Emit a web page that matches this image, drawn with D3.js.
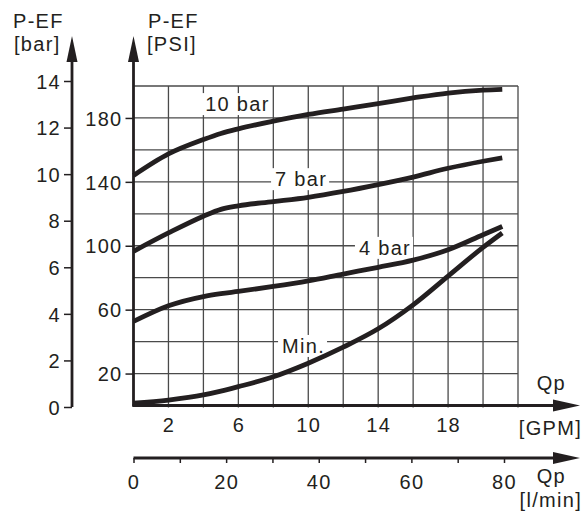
<!DOCTYPE html>
<html>
<head>
<meta charset="utf-8">
<script src="https://cdn.jsdelivr.net/npm/d3@7"></script>
<style>
	body { margin: 0; background: #fff; }
	text { font-family: "Liberation Sans", Arial, sans-serif; font-size: 20px; fill: #231f20; letter-spacing: 1.3px; }
	.grid line { stroke: #4a4a4a; stroke-width: 1.3; }
	.axis-line { stroke: #231f20; stroke-width: 2.8; fill: none; }
	.tick line { stroke: #231f20; stroke-width: 1.5; }
	.curve { fill: none; stroke: #231f20; stroke-width: 4.8; }
</style>
</head>
<body>
<div id="chart"></div>
<script>

///////////////////////////////////////////////////////////////////////////
/////////////////////////////// The data //////////////////////////////////
///////////////////////////////////////////////////////////////////////////

//Flow in GPM where the curves were read
var flowGpm = [0, 2, 4, 5, 6, 8, 10, 12, 14, 16, 18, 20, 21.1];

//Pressure in PSI per setting
var psi10bar = [144, 157.5, 166.5, 170.3, 173.2, 178, 182.2, 185.6, 189, 192.5, 195.6, 197.4, 197.9];
var psi7bar  = [96.5, 108, 118.5, 122.8, 125, 127.6, 130.3, 134, 138.3, 143, 148.5, 152.9, 155];
var psi4bar  = [52.6, 62.4, 68.2, 70, 71.4, 74.5, 78, 82.3, 86.5, 91, 97.5, 106.9, 112.1];
var psiMin   = [1.4, 3.4, 6.6, 9, 11.8, 18, 26.5, 36.5, 48, 63, 81, 99, 108];

var curveNames = ["10 bar", "7 bar", "4 bar", "Min."];

//Tick values
var barTicks = [0, 2, 4, 6, 8, 10, 12, 14];
var psiTicks = [20, 60, 100, 140, 180];
var psiGrid = [20, 40, 60, 80, 100, 120, 140, 160, 180, 200];
var gpmTicks = [2, 6, 10, 14, 18];
var gpmGrid = [2, 4, 6, 8, 10, 12, 14, 16, 18, 20, 22];
var lpmTicks = [0, 10, 20, 30, 40, 50, 60, 70, 80];
var lpmLabels = [0, 20, 40, 60, 80];

///////////////////////////////////////////////////////////////////////////
//////////////////////////// Set up the SVG ///////////////////////////////
///////////////////////////////////////////////////////////////////////////

var width = 587,
	height = 511;

var svg = d3.select("#chart")
	.append("svg")
	.attr("width", width)
	.attr("height", height);

//Scales
var x = d3.scaleLinear().domain([0, 22]).range([133.5, 518]);
var xLpm = d3.scaleLinear().domain([0, 80]).range([133.5, 504]);
var yPsi = d3.scaleLinear().domain([0, 200]).range([405.5, 86]);
var yBar = d3.scaleLinear().domain([0, 14]).range([407, 81]);

var barAxisX = 72,
	psiAxisX = x(0),
	gpmAxisY = yPsi(0),
	lpmAxisY = 458;

//Small helper for the arrow heads
function arrowUp(cx, tipY) {
	return "M" + cx + "," + tipY + "L" + (cx - 5.5) + "," + (tipY + 26) + "L" + (cx + 5.5) + "," + (tipY + 26) + "Z";
}
function arrowRight(tipX, cy) {
	return "M" + tipX + "," + cy + "L" + (tipX - 27) + "," + (cy - 6) + "L" + (tipX - 27) + "," + (cy + 6) + "Z";
}

///////////////////////////////////////////////////////////////////////////
/////////////////////////////// The grid //////////////////////////////////
///////////////////////////////////////////////////////////////////////////

var grid = svg.append("g").attr("class", "grid");

grid.selectAll(".h-line")
	.data(psiGrid)
	.enter().append("line")
	.attr("x1", x(0))
	.attr("x2", x(22))
	.attr("y1", function(d) { return yPsi(d); })
	.attr("y2", function(d) { return yPsi(d); });

grid.selectAll(".v-line")
	.data(gpmGrid)
	.enter().append("line")
	.attr("x1", function(d) { return x(d); })
	.attr("x2", function(d) { return x(d); })
	.attr("y1", yPsi(200))
	.attr("y2", yPsi(0) + 2);

///////////////////////////////////////////////////////////////////////////
///////////////////////////// Curve labels ////////////////////////////////
///////////////////////////////////////////////////////////////////////////

//Label positions (GPM, PSI of the baseline) - white box hides the grid
var labelGpm = [4.1, 8.1, 12.9, 8.5];
var labelPsi = [184.3, 137.3, 94.3, 32.9];

var labels = svg.append("g").attr("class", "curve-labels");

labels.selectAll("text")
	.data(curveNames)
	.enter().append("text")
	.attr("x", function(d, i) { return x(labelGpm[i]); })
	.attr("y", function(d, i) { return yPsi(labelPsi[i]); })
	.text(function(d) { return d; })
	.each(function() {
		var bb = this.getBBox();
		d3.select(this.parentNode).insert("rect", "text")
			.attr("x", bb.x - 4)
			.attr("y", bb.y)
			.attr("width", bb.width + 6)
			.attr("height", bb.height)
			.style("fill", "#fff");
	});

///////////////////////////////////////////////////////////////////////////
/////////////////////////////// The curves ////////////////////////////////
///////////////////////////////////////////////////////////////////////////

var line = d3.line()
	.x(function(d) { return x(d[0]); })
	.y(function(d) { return yPsi(d[1]); })
	.curve(d3.curveMonotoneX);

var series = [psi10bar, psi7bar, psi4bar, psiMin];

svg.selectAll(".curve")
	.data(series)
	.enter().append("path")
	.attr("class", "curve")
	.attr("d", function(s) {
		return line(flowGpm.map(function(g, i) { return [g, s[i]]; }));
	});

///////////////////////////////////////////////////////////////////////////
//////////////////////////////// The axes /////////////////////////////////
///////////////////////////////////////////////////////////////////////////

//Bar axis
var barAxis = svg.append("g")
	.attr("class", "axis")
	.attr("transform", "translate(" + barAxisX + ",0)")
	.call(d3.axisLeft(yBar).tickValues(barTicks).tickSize(8).tickPadding(3));
barAxis.select(".domain").remove();
barAxis.selectAll("text").attr("dy", "0.36em");

svg.append("line").attr("class", "axis-line")
	.attr("x1", barAxisX).attr("x2", barAxisX)
	.attr("y1", yBar(0)).attr("y2", 55);
svg.append("path").attr("d", arrowUp(barAxisX, 36)).style("fill", "#231f20");

//PSI axis
var psiAxis = svg.append("g")
	.attr("class", "axis")
	.attr("transform", "translate(" + psiAxisX + ",0)")
	.call(d3.axisLeft(yPsi).tickValues(psiTicks).tickSize(8).tickPadding(3));
psiAxis.select(".domain").remove();
psiAxis.selectAll("text").attr("dy", "0.36em");

svg.append("line").attr("class", "axis-line")
	.attr("x1", psiAxisX).attr("x2", psiAxisX)
	.attr("y1", gpmAxisY + 1).attr("y2", 55);
svg.append("path").attr("d", arrowUp(psiAxisX, 36)).style("fill", "#231f20");

//GPM axis
var gpmAxis = svg.append("g")
	.attr("class", "axis")
	.attr("transform", "translate(0," + gpmAxisY + ")")
	.call(d3.axisBottom(x).tickValues(gpmTicks).tickSize(0).tickPadding(12));
gpmAxis.select(".domain").remove();
gpmAxis.selectAll("text").attr("dy", "0.73em");

svg.append("line").attr("class", "axis-line")
	.attr("x1", x(0) - 1).attr("x2", 560)
	.attr("y1", gpmAxisY).attr("y2", gpmAxisY);
svg.append("path").attr("d", arrowRight(580, gpmAxisY)).style("fill", "#231f20");

//l/min axis
var lpmAxis = svg.append("g")
	.attr("class", "axis")
	.attr("transform", "translate(0," + lpmAxisY + ")")
	.call(d3.axisBottom(xLpm).tickValues(lpmTicks).tickSize(5).tickPadding(11)
		.tickFormat(function(d) { return lpmLabels.indexOf(d) > -1 ? d : ""; }));
lpmAxis.select(".domain").remove();
lpmAxis.selectAll("text").attr("dy", "0.73em");

svg.append("line").attr("class", "axis-line")
	.attr("x1", xLpm(0)).attr("x2", 560)
	.attr("y1", lpmAxisY).attr("y2", lpmAxisY);
svg.append("path").attr("d", arrowRight(580, lpmAxisY)).style("fill", "#231f20");

//Clean up d3 axis font defaults
svg.selectAll(".axis").attr("font-size", null).attr("font-family", null);
svg.selectAll(".axis text").style("fill", "#231f20");

///////////////////////////////////////////////////////////////////////////
/////////////////////////////// Axis titles ///////////////////////////////
///////////////////////////////////////////////////////////////////////////

var titles = [
	{t: "P-EF", x: 13, y: 28, a: "start"},
	{t: "[bar]", x: 14, y: 51, a: "start"},
	{t: "P-EF", x: 148, y: 28, a: "start"},
	{t: "[PSI]", x: 147, y: 51, a: "start"},
	{t: "Qp", x: 566, y: 390, a: "end"},
	{t: "[GPM]", x: 582, y: 435, a: "end"},
	{t: "Qp", x: 566, y: 483, a: "end"},
	{t: "[l/min]", x: 582, y: 507, a: "end"}
];

svg.selectAll(".axis-title")
	.data(titles)
	.enter().append("text")
	.attr("class", "axis-title")
	.attr("x", function(d) { return d.x; })
	.attr("y", function(d) { return d.y; })
	.style("text-anchor", function(d) { return d.a; })
	.text(function(d) { return d.t; });

</script>
</body>
</html>
